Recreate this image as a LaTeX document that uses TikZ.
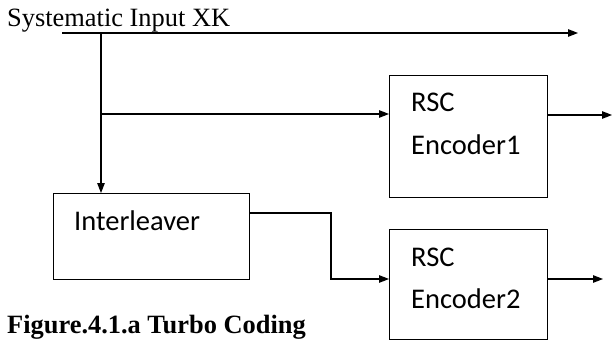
\documentclass[tikz,border=0pt]{standalone}
\usepackage{fontspec}
\setmainfont{Liberation Serif}
\newfontfamily\boxfont{Carlito}
\usetikzlibrary{arrows.meta}
\begin{document}
\begin{tikzpicture}[x=1pt,y=-1pt,
  wire/.style={line width=1.3pt},
  flow/.style={wire,-{Triangle[length=10pt,width=7.5pt]}},
  block/.style={draw,line width=1.1pt,inner sep=0pt,anchor=north west},
  blocktext/.style={font=\boxfont\fontsize{28.5}{30}\selectfont,anchor=base west,inner sep=0pt},
  serif/.style={font=\fontsize{26.4}{28}\selectfont,anchor=base west,inner sep=0pt}]
\useasboundingbox (0,0) rectangle (613,342);

% blocks
\node[block,minimum width=158pt,minimum height=122pt] (enc1) at (389,75) {};
\node[block,minimum width=196pt,minimum height=86pt] (intl) at (53,193) {};
\node[block,minimum width=158pt,minimum height=110pt] (enc2) at (389,229) {};

% block labels
\node[blocktext] (enc1a) at (411,112) {RSC};
\node[blocktext] (enc1b) at (411,154) {Encoder1};
\node[blocktext] (intla) at (74,230) {Interleaver};
\node[blocktext] (enc2a) at (411,266) {RSC};
\node[blocktext] (enc2b) at (411,308) {Encoder2};

% texts
\node[serif] (sys) at (7,27) {Systematic Input XK};
\node[serif,font=\bfseries\fontsize{26.4}{28}\selectfont] (cap) at (7,333) {Figure.4.1.a Turbo Coding};

% connection points
\coordinate (in) at (62,33);
\coordinate (sysout) at (578,33);
\coordinate (split) at (101,33);
\coordinate (tap) at (101,114);
\coordinate (bend) at (331,213);
\coordinate (out1) at (612,115);
\coordinate (out2) at (603,279);

% systematic path
\draw[flow] (in) -- (sysout);
\draw[flow] (split) -- (split |- intl.north);
\draw[flow] (tap) -- (tap -| enc1.west);

% interleaved path
\draw[flow] (intl.east |- bend) -- (bend) |- (enc2.west |- out2);

% encoder outputs
\draw[flow] (enc1.east |- out1) -- (out1);
\draw[flow] (enc2.east |- out2) -- (out2);
\end{tikzpicture}
\end{document}
